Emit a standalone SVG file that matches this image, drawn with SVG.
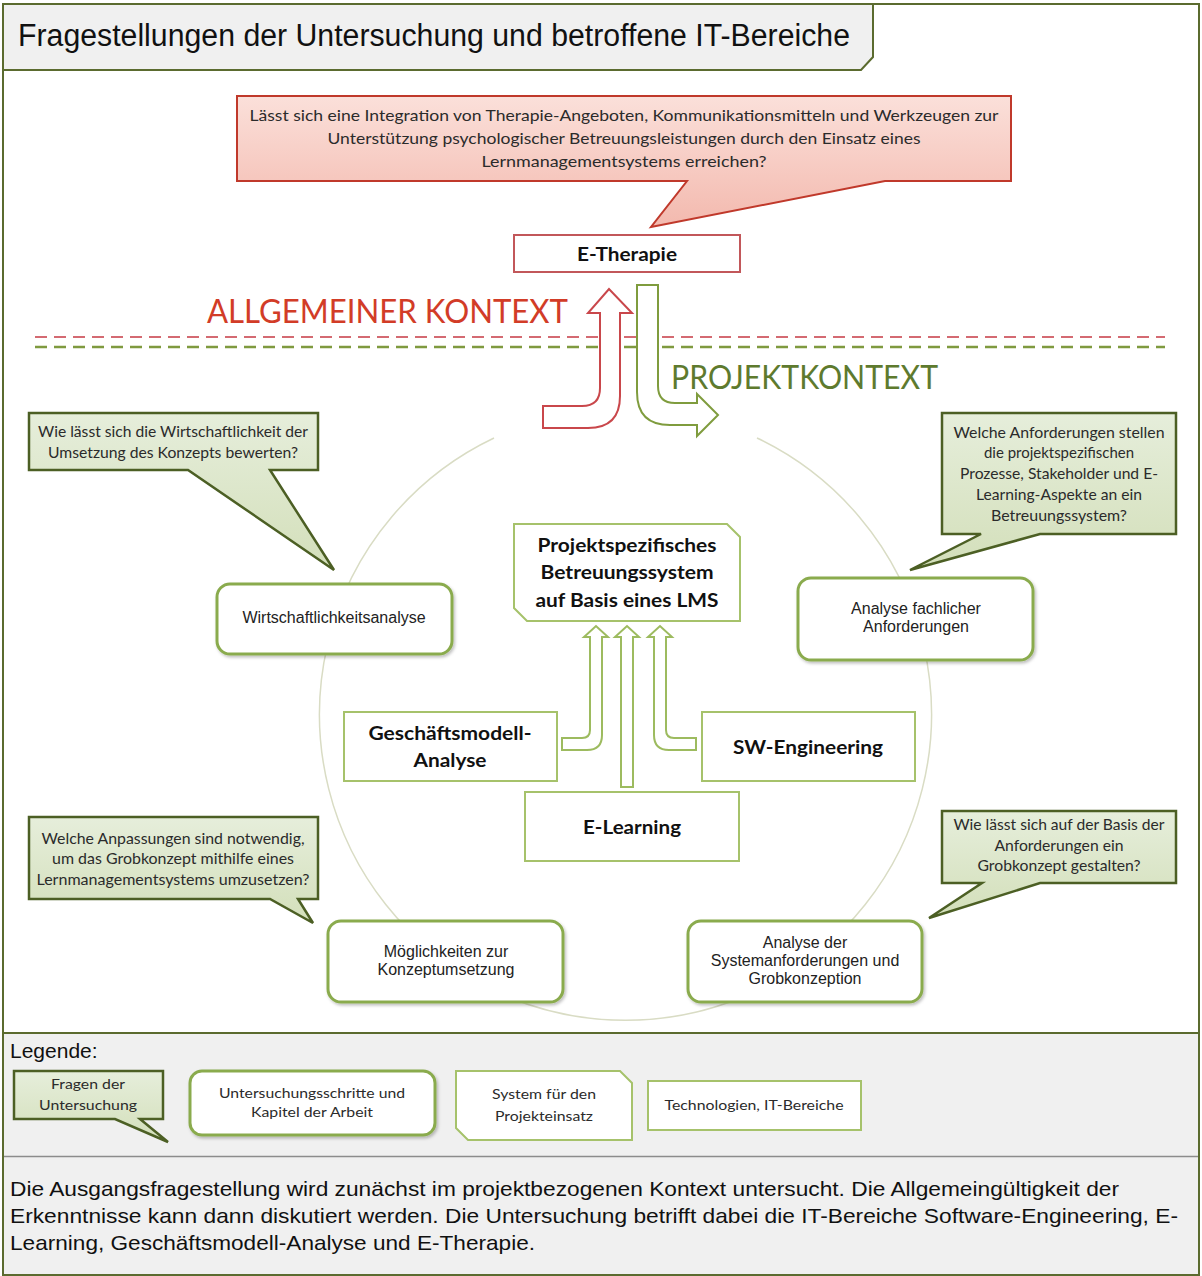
<svg xmlns="http://www.w3.org/2000/svg" width="1202" height="1276" viewBox="0 0 1202 1276">
<defs>
<linearGradient id="gGreen" x1="0" y1="0" x2="0" y2="1"><stop offset="0" stop-color="#e6eedb"/><stop offset="1" stop-color="#d3dfba"/></linearGradient>
<linearGradient id="gRed" x1="0" y1="0" x2="0" y2="1"><stop offset="0" stop-color="#fbe0da"/><stop offset="1" stop-color="#f3b9ae"/></linearGradient>
<filter id="sh" x="-10%" y="-10%" width="130%" height="140%"><feDropShadow dx="1.5" dy="2" stdDeviation="1.5" flood-color="#000" flood-opacity="0.25"/></filter>
</defs>
<style>
.sans{font-family:"Liberation Sans",Arial,sans-serif;}
.cal{font-family:Lato,"Open Sans",sans-serif;}
.callout{fill:url(#gGreen);stroke:#4c5f24;stroke-width:2.5;stroke-linejoin:miter;}
.step{fill:#fff;stroke:#8aab4e;stroke-width:3;filter:url(#sh);}
.tech{fill:#fff;stroke:#a6c26b;stroke-width:2;}
.ct{font-family:Lato,"Open Sans",sans-serif;font-size:15px;fill:#2b2b2b;text-anchor:middle;}
.st{font-family:"Liberation Sans",Arial,sans-serif;font-size:16px;fill:#222;text-anchor:middle;}
.bt{font-family:Lato,"Open Sans",sans-serif;font-size:19px;font-weight:bold;fill:#111;text-anchor:middle;}
.lt{font-family:Lato,"Open Sans",sans-serif;font-size:14px;fill:#2b2b2b;text-anchor:middle;}
.garrow{fill:#fff;stroke:#7f9c3e;stroke-width:2;stroke-linejoin:miter;}
.tarrow{fill:#fff;stroke:#9dbb5f;stroke-width:2;}
</style>
<rect x="0" y="0" width="1202" height="1276" fill="#fff"/>
<!-- sections -->
<rect x="3" y="1033" width="1196" height="123" fill="#f0f0f0"/>
<rect x="3" y="1157" width="1196" height="118" fill="#f0f0f0"/>
<line x1="3" y1="1033" x2="1199" y2="1033" stroke="#5b6b2f" stroke-width="2"/>
<line x1="3" y1="1156.5" x2="1199" y2="1156.5" stroke="#8c8c8c" stroke-width="1.5"/>
<rect x="3" y="4" width="1196" height="1271" fill="none" stroke="#5b6b2f" stroke-width="2"/>
<g id="title">
<path d="M3 4 H873 V57 L861 70 H3 Z" fill="#f0f0f0" stroke="#5b6b2f" stroke-width="2"/>
<text x="18" y="46" class="sans" font-size="31" fill="#111" textLength="832" lengthAdjust="spacingAndGlyphs">Fragestellungen der Untersuchung und betroffene IT-Bereiche</text>
</g>
<!-- circle -->
<path d="M757 438 A306 306 0 1 1 494 438" fill="none" stroke="#d9dcc4" stroke-width="1.5"/>
<!-- context lines -->
<line x1="35" y1="337" x2="1165" y2="337" stroke="#d46a72" stroke-width="2" stroke-dasharray="12 7"/>
<line x1="35" y1="347" x2="1165" y2="347" stroke="#7f9a3f" stroke-width="2.5" stroke-dasharray="12 7"/>
<text x="207" y="323" class="cal" font-size="32" fill="#d23c27" textLength="361" lengthAdjust="spacingAndGlyphs">ALLGEMEINER KONTEXT</text>
<text x="671" y="389" class="cal" font-size="32" fill="#5e7a2e" textLength="267" lengthAdjust="spacingAndGlyphs">PROJEKTKONTEXT</text>
<g id="connectors">
<path d="M543 406 H582 Q600 406 600 388 V313 H588 L609 289 L632 313 H620 V396 Q620 428 588 428 H543 Z" fill="#fff" stroke="#c9474b" stroke-width="2"/>
<path class="garrow" d="M637 285 H658 V386 Q658 403 675 403 H697 V394 L718 415 L697 436 V425 H670 Q637 425 637 392 Z"/>
<path class="tarrow" d="M562 738 H582 Q590 738 590 730 V637 H584 L596 626 L608 637 H602 V735 Q602 750 587 750 H562 Z"/>
<path class="tarrow" d="M696 738 H674 Q666 738 666 730 V637 H672 L660 626 L648 637 H654 V735 Q654 750 669 750 H696 Z"/>
<path class="tarrow" d="M621 787 V637 H615 L627 626 L639 637 H633 V787 Z"/>
</g>
<g id="q-main">
<path d="M237 96 H1011 V181 H885 L651 227 L687 181 H237 Z" fill="url(#gRed)" stroke="#c0392b" stroke-width="2"/>
<text x="624" y="121" class="ct" font-size="16" textLength="749" lengthAdjust="spacingAndGlyphs">Lässt sich eine Integration von Therapie-Angeboten, Kommunikationsmitteln und Werkzeugen zur</text>
<text x="624" y="144" class="ct" font-size="16" textLength="593" lengthAdjust="spacingAndGlyphs">Unterstützung psychologischer Betreuungsleistungen durch den Einsatz eines</text>
<text x="624" y="167" class="ct" font-size="16" textLength="285" lengthAdjust="spacingAndGlyphs">Lernmanagementsystems erreichen?</text>
</g>
<g id="e-therapie">
<rect x="514" y="235" width="226" height="37" fill="#fff" stroke="#c2575a" stroke-width="2"/>
<text x="627" y="261" class="bt" textLength="100" lengthAdjust="spacingAndGlyphs">E-Therapie</text>
</g>
<g id="q-wirtschaft">
<path class="callout" d="M29 413 H318 V470 H270 L334 570 L188 470 H29 Z"/>
<text x="173" y="437" class="ct" textLength="270" lengthAdjust="spacingAndGlyphs">Wie lässt sich die Wirtschaftlichkeit der</text>
<text x="173" y="458" class="ct" textLength="250" lengthAdjust="spacingAndGlyphs">Umsetzung des Konzepts bewerten?</text>
</g>
<g id="q-anforderungen">
<path class="callout" d="M942 413 H1176 V534 H1040 L910 570 L981 534 H942 Z"/>
<text x="1059" y="438" class="ct" textLength="211" lengthAdjust="spacingAndGlyphs">Welche Anforderungen stellen</text>
<text x="1059" y="458" class="ct" textLength="150" lengthAdjust="spacingAndGlyphs">die projektspezifischen</text>
<text x="1059" y="479" class="ct" textLength="198" lengthAdjust="spacingAndGlyphs">Prozesse, Stakeholder und E-</text>
<text x="1059" y="500" class="ct" textLength="166" lengthAdjust="spacingAndGlyphs">Learning-Aspekte an ein</text>
<text x="1059" y="521" class="ct" textLength="136" lengthAdjust="spacingAndGlyphs">Betreuungssystem?</text>
</g>
<g id="q-anpassungen">
<path class="callout" d="M29 817 H318 V899 H298 L313 923 L270 899 H29 Z"/>
<text x="173" y="844" class="ct" textLength="263" lengthAdjust="spacingAndGlyphs">Welche Anpassungen sind notwendig,</text>
<text x="173" y="864" class="ct" textLength="242" lengthAdjust="spacingAndGlyphs">um das Grobkonzept mithilfe eines</text>
<text x="173" y="885" class="ct" textLength="273" lengthAdjust="spacingAndGlyphs">Lernmanagementsystems umzusetzen?</text>
</g>
<g id="q-grobkonzept">
<path class="callout" d="M942 811 H1176 V883 H1040 L929 918 L982 883 H942 Z"/>
<text x="1059" y="830" class="ct" textLength="211" lengthAdjust="spacingAndGlyphs">Wie lässt sich auf der Basis der</text>
<text x="1059" y="851" class="ct" textLength="129" lengthAdjust="spacingAndGlyphs">Anforderungen ein</text>
<text x="1059" y="871" class="ct" textLength="163" lengthAdjust="spacingAndGlyphs">Grobkonzept gestalten?</text>
</g>
<g id="wirtschaftlichkeitsanalyse">
<rect class="step" x="217" y="584" width="235" height="70" rx="13"/>
<text x="334" y="623" class="st">Wirtschaftlichkeitsanalyse</text>
</g>
<g id="analyse-fachlich">
<rect class="step" x="798" y="578" width="235" height="82" rx="13"/>
<text x="916" y="614" class="st">Analyse fachlicher</text>
<text x="916" y="632" class="st">Anforderungen</text>
</g>
<g id="moeglichkeiten">
<rect class="step" x="328" y="921" width="235" height="81" rx="13"/>
<text x="446" y="957" class="st">Möglichkeiten zur</text>
<text x="446" y="975" class="st">Konzeptumsetzung</text>
</g>
<g id="analyse-system">
<rect class="step" x="688" y="921" width="234" height="81" rx="13"/>
<text x="805" y="948" class="st">Analyse der</text>
<text x="805" y="966" class="st">Systemanforderungen und</text>
<text x="805" y="984" class="st">Grobkonzeption</text>
</g>
<g id="betreuungssystem">
<path d="M514 524 H727 L740 537 V621 H527 L514 608 Z" fill="#fff" stroke="#a6c26b" stroke-width="2"/>
<text x="627" y="552" class="bt" textLength="179" lengthAdjust="spacingAndGlyphs">Projektspezifisches</text>
<text x="627" y="579" class="bt" textLength="173" lengthAdjust="spacingAndGlyphs">Betreuungssystem</text>
<text x="627" y="607" class="bt" textLength="183" lengthAdjust="spacingAndGlyphs">auf Basis eines LMS</text>
</g>
<g id="geschaeftsmodell">
<rect class="tech" x="344" y="712" width="213" height="69"/>
<text x="450" y="740" class="bt" textLength="163" lengthAdjust="spacingAndGlyphs">Geschäftsmodell-</text>
<text x="450" y="767" class="bt" textLength="73" lengthAdjust="spacingAndGlyphs">Analyse</text>
</g>
<g id="sw-engineering">
<rect class="tech" x="702" y="712" width="213" height="69"/>
<text x="808" y="754" class="bt" textLength="150" lengthAdjust="spacingAndGlyphs">SW-Engineering</text>
</g>
<g id="e-learning">
<rect class="tech" x="525" y="792" width="214" height="69"/>
<text x="632" y="834" class="bt" textLength="98" lengthAdjust="spacingAndGlyphs">E-Learning</text>
</g>
<g id="legend">
<text x="10" y="1058" class="sans" font-size="21" fill="#111">Legende:</text>
<path class="callout" d="M14 1071 H163 V1119 H140 L168 1142 L115 1119 H14 Z"/>
<text x="88" y="1089" class="lt" textLength="74" lengthAdjust="spacingAndGlyphs">Fragen der</text>
<text x="88" y="1110" class="lt" textLength="98" lengthAdjust="spacingAndGlyphs">Untersuchung</text>
<rect class="step" x="190" y="1071" width="245" height="64" rx="12"/>
<text x="312" y="1098" class="lt" textLength="186" lengthAdjust="spacingAndGlyphs">Untersuchungsschritte und</text>
<text x="312" y="1117" class="lt" textLength="122" lengthAdjust="spacingAndGlyphs">Kapitel der Arbeit</text>
<path d="M456 1071 H620 L632 1083 V1140 H468 L456 1128 Z" fill="#fff" stroke="#a6c26b" stroke-width="2"/>
<text x="544" y="1099" class="lt" textLength="104" lengthAdjust="spacingAndGlyphs">System für den</text>
<text x="544" y="1121" class="lt" textLength="98" lengthAdjust="spacingAndGlyphs">Projekteinsatz</text>
<rect class="tech" x="648" y="1081" width="213" height="49"/>
<text x="754" y="1110" class="lt" textLength="179" lengthAdjust="spacingAndGlyphs">Technologien, IT-Bereiche</text>
</g>
<g id="footer" class="sans" font-size="21" fill="#111">
<text x="10" y="1196" textLength="1109" lengthAdjust="spacingAndGlyphs">Die Ausgangsfragestellung wird zunächst im projektbezogenen Kontext untersucht. Die Allgemeingültigkeit der</text>
<text x="10" y="1223" textLength="1168" lengthAdjust="spacingAndGlyphs">Erkenntnisse kann dann diskutiert werden. Die Untersuchung betrifft dabei die IT-Bereiche Software-Engineering, E-</text>
<text x="10" y="1250" textLength="525" lengthAdjust="spacingAndGlyphs">Learning, Geschäftsmodell-Analyse und E-Therapie.</text>
</g>
</svg>
